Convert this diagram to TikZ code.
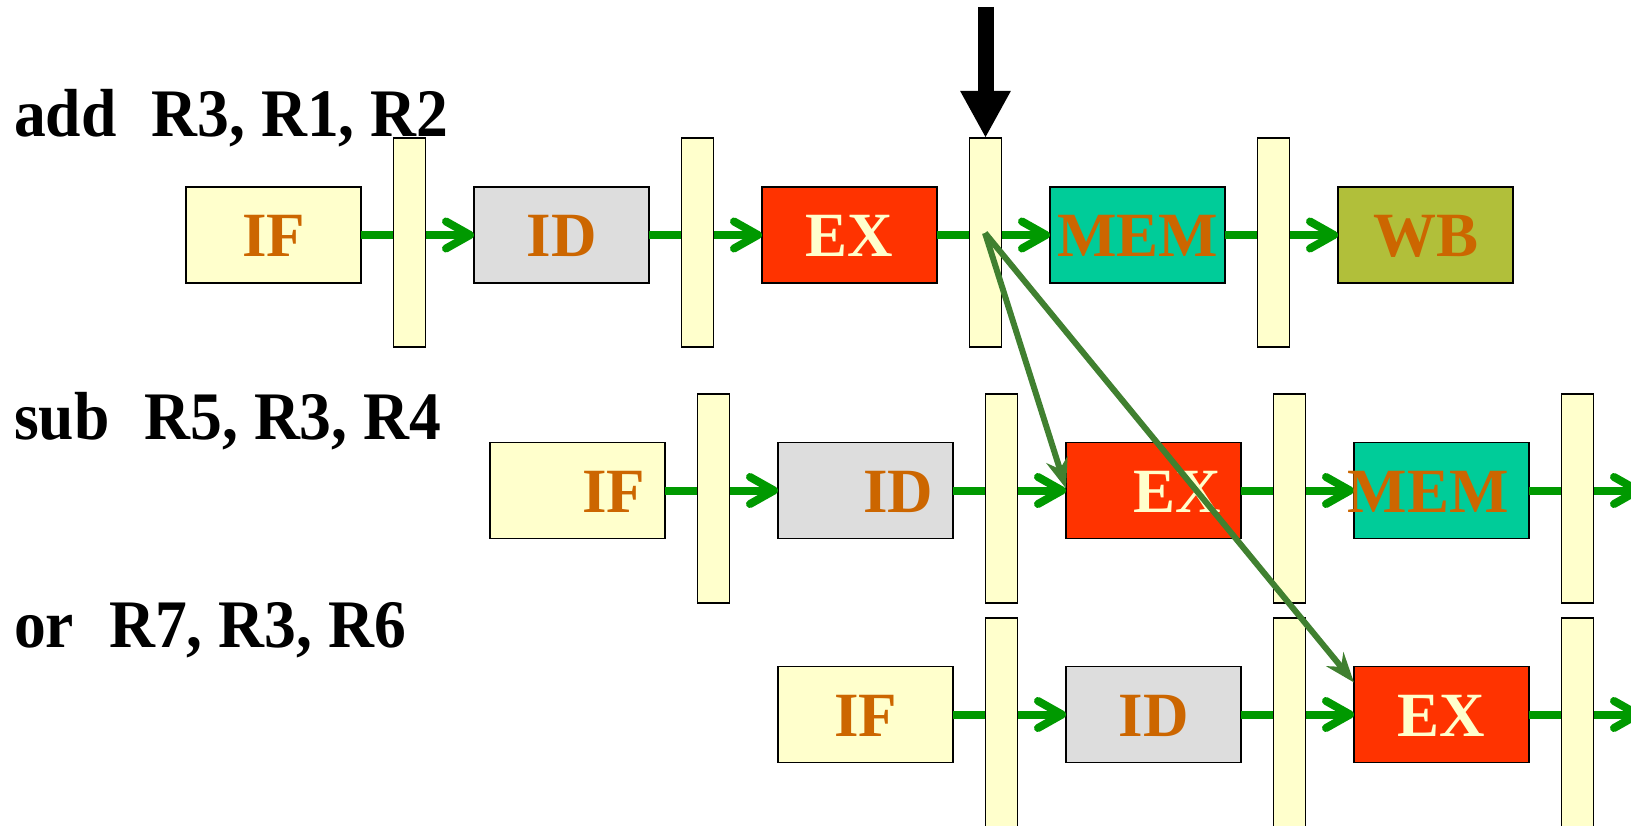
\documentclass[tikz,border=0pt]{standalone}
\usepackage{fontspec}
\setmainfont{Liberation Serif}
\usetikzlibrary{arrows.meta,calc}

\definecolor{ifcol}{HTML}{FFFFCC}
\definecolor{idcol}{HTML}{DDDDDD}
\definecolor{excol}{HTML}{FF3300}
\definecolor{memcol}{HTML}{00CC99}
\definecolor{wbcol}{RGB}{177,191,58}
\definecolor{txtorange}{HTML}{CC6600}
\definecolor{flowgreen}{HTML}{009900}
\definecolor{fwdgreen}{RGB}{64,128,48}

% slightly condensed bold text for the instruction lines
\newcommand{\instrtext}[1]{\scalebox{0.935}[1]{#1}}

\tikzset{
  stagebox/.style={draw=black, line width=1.8pt, minimum width=175pt,
    minimum height=96pt, inner sep=0pt, outer sep=0pt},
  latch/.style={draw=black, line width=1.8pt, fill=ifcol, minimum width=32pt,
    minimum height=209pt, inner sep=0pt, outer sep=0pt},
  stagetxt/.style={anchor=base, inner sep=0pt, text=txtorange,
    font=\fontsize{63}{63}\selectfont\bfseries},
  extxt/.style={stagetxt, text=ifcol},
  instr/.style={anchor=base west, inner sep=0pt,
    font=\fontsize{68}{68}\selectfont\bfseries},
  flow/.style={draw=flowgreen, line width=8pt,
    -{Straight Barb[length=24pt,width=27pt,round]}},
  fwd/.style={draw=fwdgreen, line width=6pt,
    -{Stealth[length=30pt,width=22pt]}},
}

\begin{document}
\begin{tikzpicture}[x=1pt,y=-1pt]
\useasboundingbox (0,0) rectangle (1631,826);
\clip (0,0) rectangle (1631,826);

% instruction labels
\node[instr] (iadd) at (14,137) {\instrtext{add\hspace{0.55em}R3, R1, R2}};
\node[instr] (isub) at (14,439) {\instrtext{sub\hspace{0.55em}R5, R3, R4}};
\node[instr] (ior)  at (14,647) {\instrtext{or\hspace{0.55em}R7, R3, R6}};

% pipeline stages, first instruction
\node[stagebox, fill=ifcol]  (if1)  at (273.5,235) {};
\node[stagebox, fill=idcol]  (id1)  at (561.5,235) {};
\node[stagebox, fill=excol]  (ex1)  at (849.5,235) {};
\node[stagebox, fill=memcol] (mem1) at (1137.5,235) {};
\node[stagebox, fill=wbcol]  (wb1)  at (1425.5,235) {};

% second instruction
\node[stagebox, fill=ifcol]  (if2)  at (577.5,490.5) {};
\node[stagebox, fill=idcol]  (id2)  at (865.5,490.5) {};
\node[stagebox, fill=excol]  (ex2)  at (1153.5,490.5) {};
\node[stagebox, fill=memcol] (mem2) at (1441.5,490.5) {};

% third instruction
\node[stagebox, fill=ifcol]  (if3)  at (865.5,714.5) {};
\node[stagebox, fill=idcol]  (id3)  at (1153.5,714.5) {};
\node[stagebox, fill=excol]  (ex3)  at (1441.5,714.5) {};

% free ends of the last flow arrows
\coordinate (out2) at (1642,490.5);
\coordinate (out3) at (1642,714.5);

% flow arrows between stages
\draw[flow] (if1.east) -- (id1.west);
\draw[flow] (id1.east) -- (ex1.west);
\draw[flow] (ex1.east) -- (mem1.west);
\draw[flow] (mem1.east) -- (wb1.west);
\draw[flow] (if2.east) -- (id2.west);
\draw[flow] (id2.east) -- (ex2.west);
\draw[flow] (ex2.east) -- (mem2.west);
\draw[flow] (mem2.east) -- (out2);
\draw[flow] (if3.east) -- (id3.west);
\draw[flow] (id3.east) -- (ex3.west);
\draw[flow] (ex3.east) -- (out3);

% pipeline registers
\node[latch] (r11) at (409.5,242.5) {};
\node[latch] (r12) at (697.5,242.5) {};
\node[latch] (r13) at (985.5,242.5) {};
\node[latch] (r14) at (1273.5,242.5) {};
\node[latch] (r21) at (713.5,498.5) {};
\node[latch] (r22) at (1001.5,498.5) {};
\node[latch] (r23) at (1289.5,498.5) {};
\node[latch] (r24) at (1577.5,498.5) {};
\node[latch] (r31) at (1001.5,722.5) {};
\node[latch] (r32) at (1289.5,722.5) {};
\node[latch] (r33) at (1577.5,722.5) {};

% stage names
\node[stagetxt] (tif1)  at (273.5,257) {IF};
\node[stagetxt] (tid1)  at (561.5,257) {ID};
\node[extxt]    (tex1)  at (849.5,257) {EX};
\node[stagetxt] (tmem1) at (1137.5,257) {MEM};
\node[stagetxt] (twb1)  at (1425.5,257) {WB};

\node[stagetxt] (tif2)  at (613.5,512.5) {IF};
\node[stagetxt] (tid2)  at (898,512.5) {ID};
\node[extxt]    (tex2)  at (1177,512.5) {EX};
\node[stagetxt] (tmem2) at (1428,512.5) {MEM};

\node[stagetxt] (tif3)  at (865.5,736.5) {IF};
\node[extxt]    (tex3)  at (1441.5,736.5) {EX};
\node[stagetxt] (tid3)  at (1153.5,736.5) {ID};

% current clock edge
\coordinate (clk) at (985.5,7);
\draw[line width=16pt, -{Triangle[length=47pt,width=47pt]}] (clk) -- (r13.north);

% forwarding paths out of the EX/MEM register
\coordinate (fwsrc) at (985,233);
\draw[fwd] (fwsrc) -- ([yshift=2pt]ex2.west);
\draw[fwd] (fwsrc) -- ([yshift=-16pt]ex3.north west);
\end{tikzpicture}
\end{document}
